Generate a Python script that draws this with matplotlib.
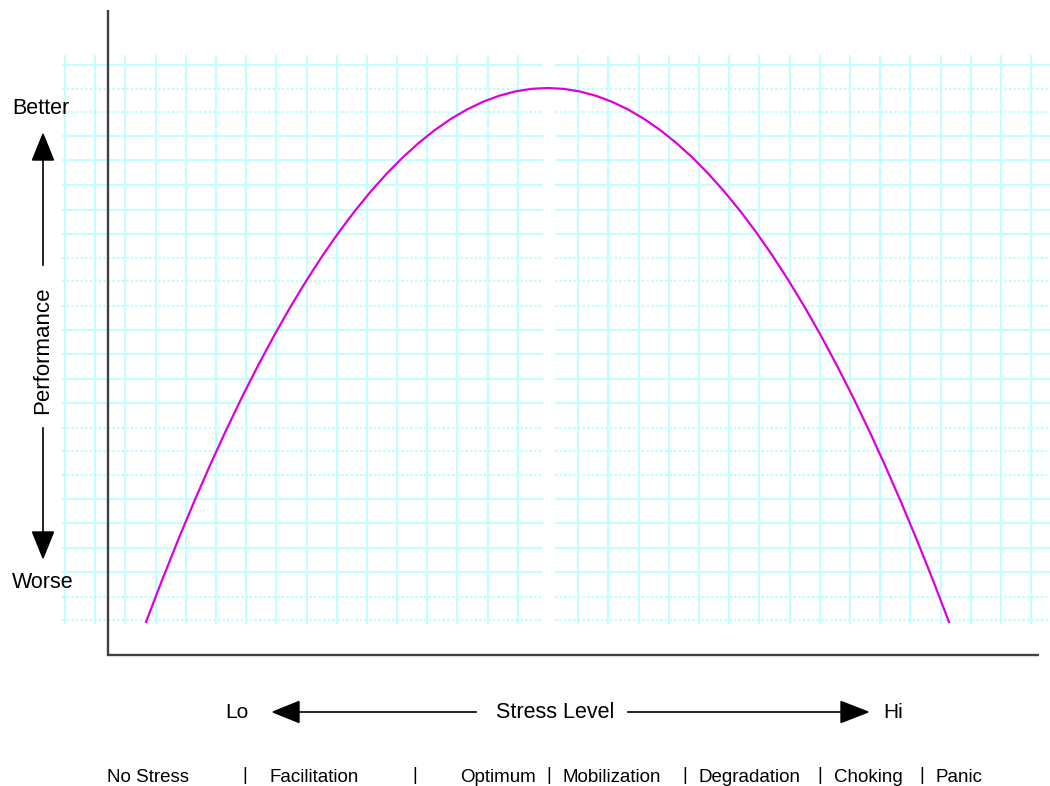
import matplotlib
matplotlib.use("Agg")
import matplotlib.pyplot as plt
from matplotlib.transforms import Affine2D
from matplotlib.patches import Polygon

# ---- data ----
stress = [0, 0.2, 0.4, 0.6, 0.8, 1, 1.2, 1.4, 1.6, 1.8, 2, 2.2, 2.4, 2.6, 2.8, 3,
          3.2, 3.4, 3.6, 3.8, 4, 4.2, 4.4, 4.6, 4.8, 5, 5.2, 5.4, 5.6, 5.8, 6, 6.2,
          6.4, 6.6, 6.8, 7, 7.2, 7.4, 7.6, 7.8, 8, 8.2, 8.4, 8.6, 8.8, 9, 9.2, 9.4,
          9.6, 9.8, 10]
performance = [0, 0.784, 1.536, 2.256, 2.944, 3.6, 4.224, 4.816, 5.376, 5.904, 6.4,
               6.864, 7.296, 7.696, 8.064, 8.4, 8.704, 8.976, 9.216, 9.424, 9.6,
               9.744, 9.856, 9.936, 9.984, 10, 9.984, 9.936, 9.856, 9.744, 9.6,
               9.424, 9.216, 8.976, 8.704, 8.4, 8.064, 7.696, 7.296, 6.864, 6.4,
               5.904, 5.376, 4.816, 4.224, 3.6, 2.944, 2.256, 1.536, 0.784, 0]
zone_labels = ["No Stress", "Facilitation", "Optimum", "Mobilization",
               "Degradation", "Choking", "Panic"]
y_top_label, y_bottom_label, y_axis_title = "Better", "Worse", "Performance"
x_left_label, x_right_label, x_axis_title = "Lo", "Hi", "Stress Level"

W, H = 1050, 786
fig = plt.figure(figsize=(W / 100, H / 100), dpi=100)
fig.patch.set_facecolor("white")
ax = fig.add_axes([0, 0, 1, 1])
ax.set_axis_off()
# data scale: stress 0 -> px 146, 10 -> px 949 ; performance 0 -> px 622, 10 -> px 88
sx = (949 - 146) / 10.0
sy = (622 - 88) / 10.0
ax.set_xlim(-146 / sx, (W - 146) / sx)
ax.set_ylim((622 - H) / sy, 622 / sy)

# pixel transform (top-left origin)
pix = Affine2D().scale(1, -1).translate(0, H)

FONT = "Liberation Sans"
GRID = "#c4ffff"

# ---- graph paper grid ----
vx = [65 + i * 30.19 for i in range(33) if i != 16]
for x in vx:
    ax.plot([x, x], [55, 624], color=GRID, lw=1.5, transform=pix, zorder=1,
            solid_capstyle="butt")
hlines = [(65, "s"), (89, "d"), (112, "d"), (136, "s"), (160, "s"), (185, "s"),
          (210, "s"), (234, "s"), (258, "d"), (281, "d"), (306, "d"), (330, "s"),
          (354, "s"), (379, "s"), (403, "s"), (428, "d"), (451, "d"), (475, "d"),
          (499, "s"), (523, "s"), (548, "s"), (572, "s"), (597, "d"), (620, "d")]
for y, st in hlines:
    for x0, x1 in [(62, 543), (555, 1050)]:
        if st == "s":
            ax.plot([x0, x1], [y, y], color=GRID, lw=1.5, transform=pix, zorder=1,
                    solid_capstyle="butt")
        else:
            ax.plot([x0, x1], [y, y], color="#b8ffff", lw=1.5, ls=(0, (1.2, 1.0)),
                    transform=pix, zorder=1, dash_capstyle="butt")

# ---- axes lines ----
ax.plot([108, 108], [10, 656], color="#404040", lw=1.7, transform=pix, zorder=3,
        solid_capstyle="butt")
ax.plot([107, 1039], [655, 655], color="#404040", lw=1.7, transform=pix, zorder=3,
        solid_capstyle="butt")

# ---- curve ----
ax.plot(stress, performance, color="#dd00dd", lw=1.6, zorder=4)

# ---- arrows & labels ----
def tri(pts):
    ax.add_patch(Polygon(pts, closed=True, color="black", transform=pix, zorder=5))

# vertical
ax.plot([43, 43], [160, 265], color="black", lw=1.2, transform=pix, zorder=5)
tri([(43, 134), (32.5, 160), (53.5, 160)])
ax.plot([43, 43], [428, 532], color="black", lw=1.2, transform=pix, zorder=5)
tri([(43, 558), (32.5, 532), (53.5, 532)])
ax.text(41, 108, y_top_label, fontsize=15.5, family=FONT, ha="center", va="center",
        transform=pix)
ax.text(43, 582, y_bottom_label, fontsize=15.5, family=FONT, ha="center", va="center",
        transform=pix)
ax.text(43, 350, y_axis_title, fontsize=16, family=FONT, ha="center", va="center",
        rotation=90, transform=pix)

# horizontal
ax.plot([298, 476], [712, 712], color="black", lw=1.2, transform=pix, zorder=5)
tri([(273, 712), (299, 701.5), (299, 722.5)])
ax.plot([628, 842], [712, 712], color="black", lw=1.2, transform=pix, zorder=5)
tri([(868, 712), (841, 701.5), (841, 722.5)])
ax.text(237, 712, x_left_label, fontsize=15, family=FONT, ha="center", va="center",
        transform=pix)
ax.text(893, 712, x_right_label, fontsize=15, family=FONT, ha="center", va="center",
        transform=pix)
ax.text(555, 712, x_axis_title, fontsize=15.5, family=FONT, ha="center", va="center",
        transform=pix)

# bottom zone labels
label_x = [148, 314, 498, 612, 749, 868, 959]
sep_x = [245, 415, 549, 685, 820, 922]
for x, t in zip(label_x, zone_labels):
    ax.text(x, 777, t, fontsize=13.5, family=FONT, ha="center", va="center",
            transform=pix)
for x in sep_x:
    ax.text(x, 776, "|", fontsize=13, family=FONT, ha="center", va="center",
            transform=pix)

fig.savefig("out.png", dpi=100, facecolor="white")
